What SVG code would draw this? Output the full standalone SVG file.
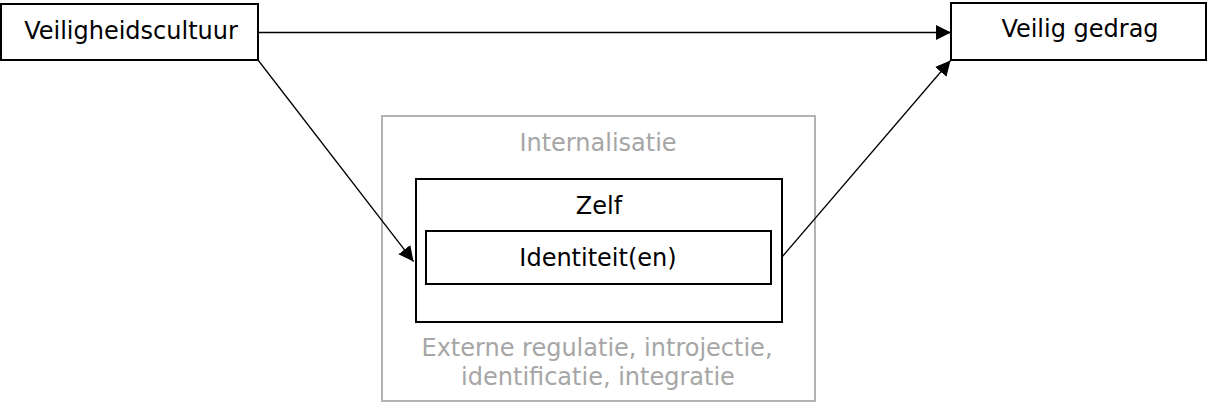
<svg xmlns="http://www.w3.org/2000/svg" width="1208" height="403" viewBox="0 0 1208 403">
  <style>
    .box { fill: #ffffff; stroke: #000000; stroke-width: 2; }
    .gbox { fill: none; stroke: #b3b3b3; stroke-width: 2; }
    .t { font-family: "DejaVu Sans", Verdana, sans-serif; font-size: 24px; fill: #000000; text-anchor: middle; }
    .g { fill: #a6a6a6; }
    .c { stroke: #000000; stroke-width: 1.3; fill: none; marker-end: url(#ah); }
  </style>
  <defs>
    <marker id="ah" markerUnits="userSpaceOnUse" markerWidth="16" markerHeight="16" refX="15" refY="7.5" orient="auto">
      <path d="M0,0 L15,7.5 L0,15 z" fill="#000000"/>
    </marker>
  </defs>
  <rect width="1208" height="403" fill="#ffffff"/>
  <g id="internalisatie">
    <rect class="gbox" x="382" y="116" width="433" height="285"/>
    <text class="t g" x="598" y="151">Internalisatie</text>
    <text class="t g" x="597" y="356">Externe regulatie, introjectie,</text>
    <text class="t g" x="598" y="385">identificatie, integratie</text>
  </g>
  <g id="zelf">
    <rect class="box" x="416" y="179" width="366" height="143"/>
    <text class="t" x="599" y="214">Zelf</text>
  </g>
  <g id="identiteit">
    <rect class="box" x="426" y="231" width="345" height="53"/>
    <text class="t" x="598" y="266">Identiteit(en)</text>
  </g>
  <g id="veiligheidscultuur">
    <rect class="box" x="1" y="4" width="257" height="56"/>
    <text class="t" x="131" y="39">Veiligheidscultuur</text>
  </g>
  <g id="veilig-gedrag">
    <rect class="box" x="951" y="3" width="255" height="57"/>
    <text class="t" x="1080" y="37">Veilig gedrag</text>
  </g>
  <g id="connectors">
    <line class="c" x1="258" y1="32.5" x2="951" y2="32.5"/>
    <line class="c" x1="258" y1="60" x2="413.5" y2="261.5"/>
    <line class="c" x1="782" y1="257" x2="950.5" y2="60.5"/>
  </g>
</svg>
